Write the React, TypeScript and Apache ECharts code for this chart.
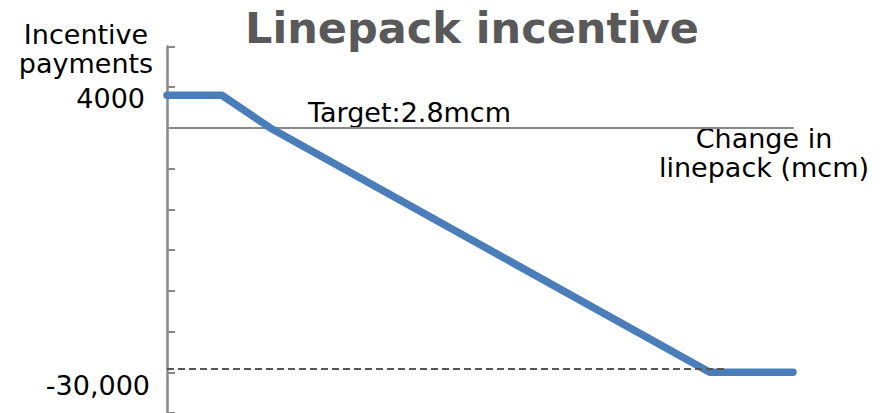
import React, { useEffect, useRef } from "react";
import * as echarts from "echarts";

// Data (x: arbitrary linepack change units, y: incentive payments)
const curveX = [0, 0.88, 1.65, 8.67, 10];
const curveY = [4000, 4000, 0, -30000, -30000];
const floorX = [0, 8.91];
const floorY = [-29600, -29600];
const yTicks = { min: -35000, max: 10000, interval: 5000 };
const xRange = { min: 0, max: 10 };

const title = "Linepack incentive";
const yName = "Incentive\npayments";
const topLabel = "4000";
const bottomLabel = "-30,000";
const targetLabel = "Target:2.8mcm";
const xName = "Change in\nlinepack (mcm)";

const FONT = "'DejaVu Sans', Verdana, sans-serif";

export default function App() {
  const ref = useRef<HTMLDivElement>(null);
  useEffect(() => {
    document.body.style.margin = "0";
    const chart = echarts.init(ref.current!, undefined, { renderer: "svg" });
    const axisGray = "#888888";
    chart.setOption({
      animation: false,
      grid: { left: 167, top: 46.5, width: 626, height: 369, containLabel: false },
      xAxis: {
        type: "value",
        min: xRange.min,
        max: xRange.max,
        axisLine: { show: true, onZero: true, lineStyle: { color: axisGray, width: 2 } },
        axisTick: { show: false },
        axisLabel: { show: false },
        splitLine: { show: false },
      },
      yAxis: {
        type: "value",
        min: yTicks.min,
        max: yTicks.max,
        interval: yTicks.interval,
        axisLine: { show: true, onZero: false, lineStyle: { color: axisGray, width: 2.5 } },
        axisTick: { show: true, inside: true, length: 8, lineStyle: { color: axisGray, width: 2 } },
        axisLabel: { show: false },
        splitLine: { show: false },
      },
      series: [
        {
          type: "line",
          data: curveX.map((x, i) => [x, curveY[i]]),
          symbol: "none",
          clip: false,
          z: 3,
          lineStyle: { color: "#4A7EBB", width: 7.5, cap: "round", join: "round" },
        },
        {
          type: "line",
          data: floorX.map((x, i) => [x, floorY[i]]),
          symbol: "none",
          clip: false,
          z: 4,
          lineStyle: { color: "#555555", width: 2, type: [7, 4] },
        },
      ],
      graphic: [
        {
          type: "text",
          x: 472,
          y: 28,
          style: { text: title, font: `bold 43px ${FONT}`, fill: "#595959", textAlign: "center", textVerticalAlign: "middle" },
        },
        {
          type: "text",
          x: 86,
          y: 20,
          style: { text: yName, font: `27px ${FONT}`, fill: "#000", textAlign: "center", textVerticalAlign: "top", lineHeight: 29 },
        },
        {
          type: "text",
          x: 145,
          y: 98,
          style: { text: topLabel, font: `27px ${FONT}`, fill: "#000", textAlign: "right", textVerticalAlign: "middle" },
        },
        {
          type: "text",
          x: 150,
          y: 385,
          style: { text: bottomLabel, font: `27px ${FONT}`, fill: "#000", textAlign: "right", textVerticalAlign: "middle" },
        },
        {
          type: "text",
          x: 308,
          y: 112,
          style: { text: targetLabel, font: `27px ${FONT}`, fill: "#000", textAlign: "left", textVerticalAlign: "middle" },
        },
        {
          type: "text",
          x: 764,
          y: 124,
          style: { text: xName, font: `27px ${FONT}`, fill: "#000", textAlign: "center", textVerticalAlign: "top", lineHeight: 29 },
        },
      ],
    });
    return () => chart.dispose();
  }, []);
  return <div ref={ref} style={{ width: 880, height: 413 }} />;
}
